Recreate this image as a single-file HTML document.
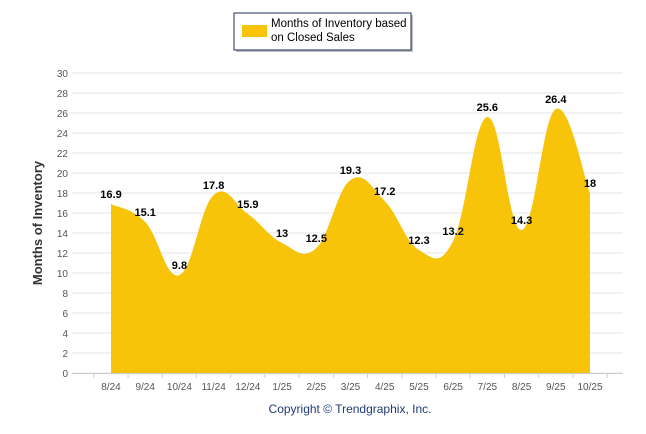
<!DOCTYPE html>
<html><head><meta charset="utf-8"><style>
body{margin:0;background:#fff;}
svg{display:block;font-family:"Liberation Sans",Arial,sans-serif;}
</style></head><body>
<svg id="c" width="646" height="434">
<g>
<rect x="236" y="15" width="177" height="37" fill="#444" opacity="0.35"/>
<rect x="234" y="13" width="177" height="37" fill="#fff" stroke="#1f2f5a" stroke-width="1"/>
<rect x="242" y="25" width="25" height="12" fill="#f7c40a"/>
<text x="271" y="27" font-size="11.5" fill="#000">Months of Inventory based</text>
<text x="271" y="41" font-size="11.5" fill="#000">on Closed Sales</text>
</g>
<text transform="translate(42,223) rotate(-90)" text-anchor="middle" font-size="13" font-weight="bold" fill="#333">Months of Inventory</text>
<text x="350" y="413" text-anchor="middle" font-size="12" fill="#1f3b73">Copyright © Trendgraphix, Inc.</text>
<g id="grid"></g><g id="area"></g><g id="lbl"></g><g id="xax"></g>
</svg>
<script>
const categories=["8/24","9/24","10/24","11/24","12/24","1/25","2/25","3/25","4/25","5/25","6/25","7/25","8/25","9/25","10/25"];
const values=[16.9,15.1,9.8,17.8,15.9,13,12.5,19.3,17.2,12.3,13.2,25.6,14.3,26.4,18];
const yTicks=[0,2,4,6,8,10,12,14,16,18,20,22,24,26,28,30];
const NS="http://www.w3.org/2000/svg";
const x0=111,dx=(590-111)/14,yb=373,ys=10;
const X=i=>x0+i*dx, Y=v=>yb-v*ys;
function mk(t,a,p){const e=document.createElementNS(NS,t);for(const k in a)e.setAttribute(k,a[k]);p.appendChild(e);return e;}
const g=document.getElementById('grid');
yTicks.forEach(v=>{
 const l=mk('line',{x1:72,x2:623,y1:Y(v),y2:Y(v),stroke:'#e6e6e6'},g);
 
 
 const t=mk('text',{x:68,y:Y(v)+4,'text-anchor':'end','font-size':'10',fill:'#555'},g);
 t.textContent=v;
 
 
});
const xa=document.getElementById('xax');
mk('line',{x1:72,x2:623,y1:yb+0.5,y2:yb+0.5,stroke:'#ccc'},xa);
for(let i=0;i<=categories.length;i++){mk('line',{x1:X(i)-dx/2,x2:X(i)-dx/2,y1:yb,y2:yb+5,stroke:'#ccc'},xa);}
categories.forEach((c,i)=>{
 const t=mk('text',{x:X(i),y:390,'text-anchor':'middle','font-size':'10',fill:'#555'},xa);
 t.textContent=c;
 
 
});
const pts=values.map((v,i)=>[X(i),Y(v)]);
let d=`M${pts[0][0]},${yb} L${pts[0][0]},${pts[0][1]}`;
const k=1/5;
for(let i=0;i<pts.length-1;i++){
 const p0=pts[i-1]||pts[i],p1=pts[i],p2=pts[i+1],p3=pts[i+2]||p2;
 const c1=[p1[0]+(p2[0]-p0[0])*k,p1[1]+(p2[1]-p0[1])*k];
 const c2=[p2[0]-(p3[0]-p1[0])*k,p2[1]-(p3[1]-p1[1])*k];
 d+=` C${c1[0]},${c1[1]} ${c2[0]},${c2[1]} ${p2[0]},${p2[1]}`;
}
d+=` L${pts[pts.length-1][0]},${yb} Z`;
const ar=mk('path',{d:d,fill:'#f7c40a'},document.getElementById('area'));


const lg=document.getElementById('lbl');
values.forEach((v,i)=>{
 const t=mk('text',{x:X(i),y:Y(v)-6,'text-anchor':'middle','font-size':'11','font-weight':'bold',fill:'#000'},lg);
 t.textContent=v;
 
 
});
</script>
</body></html>
